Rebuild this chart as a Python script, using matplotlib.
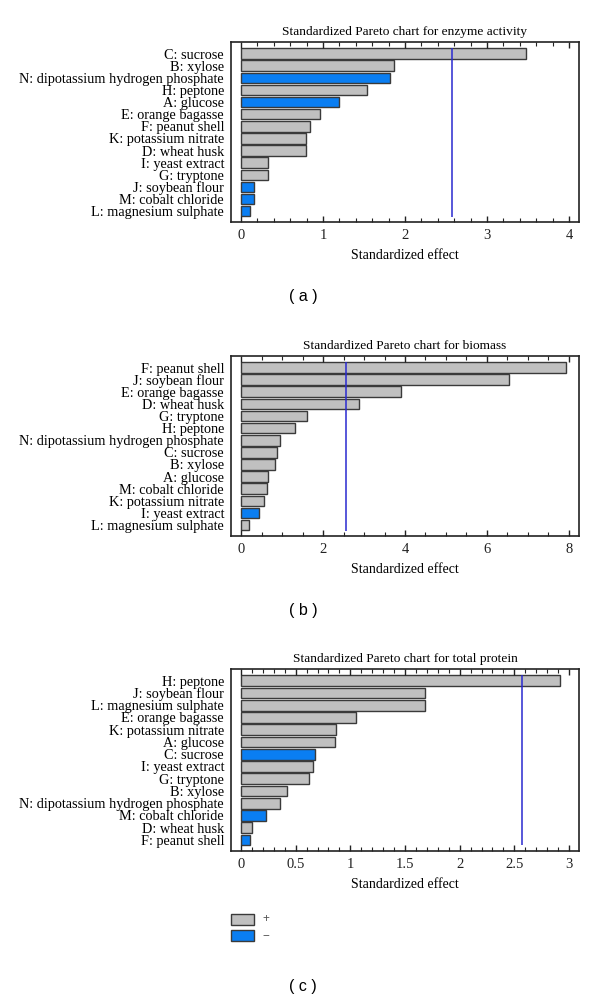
import matplotlib
matplotlib.use("Agg")
import matplotlib.pyplot as plt
from matplotlib.ticker import MultipleLocator, FuncFormatter
from matplotlib.patches import Rectangle

# panel (a): enzyme activity
labels_a = ["C: sucrose", "B: xylose", "N: dipotassium hydrogen phosphate", "H: peptone",
            "A: glucose", "E: orange bagasse", "F: peanut shell", "K: potassium nitrate",
            "D: wheat husk", "I: yeast extract", "G: tryptone", "J: soybean flour",
            "M: cobalt chloride", "L: magnesium sulphate"]
values_a = [3.48, 1.87, 1.82, 1.54, 1.19, 0.96, 0.845, 0.79, 0.79, 0.335, 0.335, 0.16, 0.16, 0.11]
signs_a = ["+", "+", "-", "+", "-", "+", "+", "+", "+", "+", "+", "-", "-", "-"]

# panel (b): biomass
labels_b = ["F: peanut shell", "J: soybean flour", "E: orange bagasse", "D: wheat husk",
            "G: tryptone", "H: peptone", "N: dipotassium hydrogen phosphate", "C: sucrose",
            "B: xylose", "A: glucose", "M: cobalt chloride", "K: potassium nitrate",
            "I: yeast extract", "L: magnesium sulphate"]
values_b = [7.93, 6.53, 3.90, 2.88, 1.60, 1.32, 0.95, 0.89, 0.83, 0.67, 0.64, 0.57, 0.45, 0.19]
signs_b = ["+", "+", "+", "+", "+", "+", "+", "+", "+", "+", "+", "+", "-", "+"]

# panel (c): total protein
labels_c = ["H: peptone", "J: soybean flour", "L: magnesium sulphate", "E: orange bagasse",
            "K: potassium nitrate", "A: glucose", "C: sucrose", "I: yeast extract",
            "G: tryptone", "B: xylose", "N: dipotassium hydrogen phosphate",
            "M: cobalt chloride", "D: wheat husk", "F: peanut shell"]
values_c = [2.92, 1.68, 1.68, 1.05, 0.865, 0.855, 0.673, 0.656, 0.62, 0.42, 0.356, 0.23, 0.10, 0.08]
signs_c = ["+", "+", "+", "+", "+", "+", "-", "+", "+", "+", "+", "-", "+", "-"]

crit = 2.57  # critical t value

GRAY = "#c0c0c0"
BLUE = "#0a7ef2"
EDGE = "#3a3a3a"
LINE = "#2a2ad0"
SERIF = "Liberation Serif"
FS = 10.3

fig = plt.figure(figsize=(6, 10.02), dpi=100)

panels = [
    (labels_a, values_a, signs_a, "Standardized Pareto chart for enzyme activity",
     [0.385, 0.7784, 0.58, 0.1796], (-0.122, 4.122), 1, 0.2, "( a )", 297),
    (labels_b, values_b, signs_b, "Standardized Pareto chart for biomass",
     [0.385, 0.4651, 0.58, 0.1796], (-0.244, 8.244), 2, 0.5, "( b )", 611),
    (labels_c, values_c, signs_c, "Standardized Pareto chart for total protein",
     [0.385, 0.1507, 0.58, 0.1816], (-0.092, 3.092), 0.5, 0.1, "( c )", 987),
]

for labels, values, signs, title, pos, xlim, major, minor, tag, tag_y in panels:
    ax = fig.add_axes(pos)
    ypos = list(range(len(labels)))
    colors = [GRAY if s == "+" else BLUE for s in signs]
    ax.barh(ypos, values, height=0.87, color=colors, edgecolor=EDGE, linewidth=1.0)
    ax.vlines(crit, -0.45, len(labels) - 0.55, color=LINE, linewidth=1.1)
    ax.set_ylim(len(labels) - 0.1, -0.95)
    ax.set_xlim(*xlim)
    ax.xaxis.set_major_locator(MultipleLocator(major))
    ax.xaxis.set_minor_locator(MultipleLocator(minor))
    ax.xaxis.set_major_formatter(FuncFormatter(lambda v, p: "%g" % v))
    ax.set_yticks(ypos)
    ax.set_yticklabels(labels, family=SERIF, fontsize=FS)
    ax.tick_params(axis="x", which="both", direction="in", top=True, bottom=True,
                   colors="#222222", labelsize=10.5, pad=5)
    for lab in ax.get_xticklabels():
        lab.set_family(SERIF)
    ax.tick_params(axis="x", which="major", length=4, width=1)
    ax.tick_params(axis="x", which="minor", length=3, width=0.8)
    ax.tick_params(axis="y", length=0, pad=5)
    for sp in ax.spines.values():
        sp.set_linewidth(1.2)
        sp.set_color("#222222")
    ax.set_title(title, family=SERIF, fontsize=9.6, pad=5)
    ax.set_xlabel("Standardized effect", family=SERIF, fontsize=10, labelpad=5)
    fig.text(303 / 600, 1 - tag_y / 1002, tag, family="Liberation Sans", fontsize=11.5,
             ha="center", va="center")

# legend for signs
fig.patches.append(Rectangle((231 / 600, 1 - 925 / 1002), 23 / 600, 11 / 1002,
                             transform=fig.transFigure, facecolor=GRAY, edgecolor=EDGE, linewidth=1))
fig.patches.append(Rectangle((231 / 600, 1 - 941 / 1002), 23 / 600, 11 / 1002,
                             transform=fig.transFigure, facecolor=BLUE, edgecolor=EDGE, linewidth=1))
fig.text(262 / 600, 1 - 919 / 1002, "+", family="Liberation Sans", fontsize=8.5,
         color="#555555", va="center")
fig.text(262 / 600, 1 - 935 / 1002, "\u2212", family="Liberation Sans", fontsize=8.5,
         color="#555555", va="center")

fig.savefig("out.png", dpi=100)
